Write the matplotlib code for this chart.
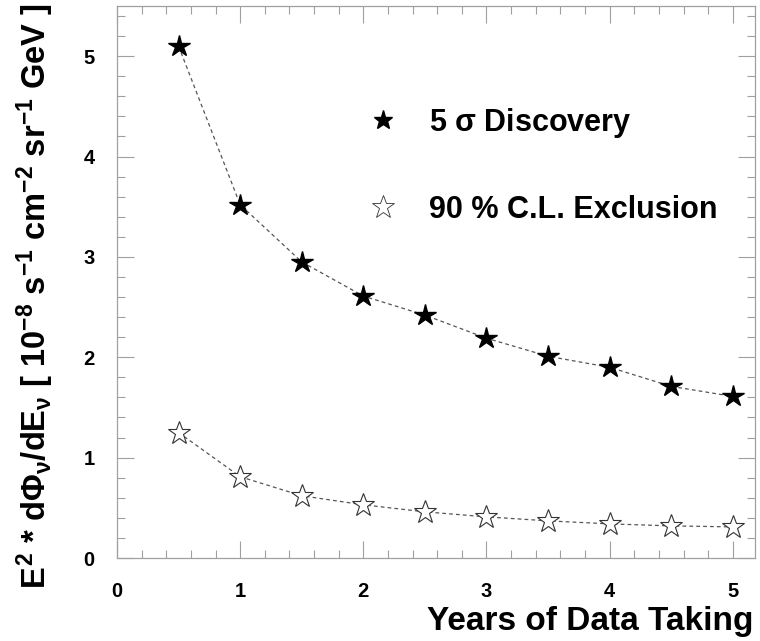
import matplotlib
matplotlib.use("Agg")
import matplotlib.pyplot as plt
from matplotlib.lines import Line2D
from matplotlib.ticker import MultipleLocator

plt.rcParams['font.family'] = ['Liberation Sans', 'DejaVu Sans']
plt.rcParams['font.weight'] = 'bold'
plt.rcParams['mathtext.fontset'] = 'custom'
plt.rcParams['mathtext.rm'] = 'Liberation Sans:bold'
plt.rcParams['mathtext.it'] = 'Liberation Sans:bold'
plt.rcParams['mathtext.bf'] = 'Liberation Sans:bold'

# data
years = [0.5, 1.0, 1.5, 2.0, 2.5, 3.0, 3.5, 4.0, 4.5, 5.0]
discovery = [5.10, 3.52, 2.95, 2.61, 2.42, 2.19, 2.01, 1.90, 1.71, 1.61]
exclusion = [1.25, 0.81, 0.62, 0.53, 0.46, 0.41, 0.37, 0.34, 0.32, 0.31]

x_ticks = [0, 1, 2, 3, 4, 5]
y_ticks = [0, 1, 2, 3, 4, 5]

frame = '#a0a0a0'

fig = plt.figure(figsize=(7.6, 6.41), dpi=100)
ax = fig.add_axes([117/760, 83/641, 638/760, 552/641])

# dashed curves
ax.plot(years, discovery, ls=(0, (3, 2.5)), color='#555555', lw=0.9, zorder=2)
ax.plot(years, exclusion, ls=(0, (3, 2.5)), color='#555555', lw=0.9, zorder=2)

# markers
ax.plot(years, discovery, ls='none', marker='*', ms=16, mfc='black', mec='black', zorder=3)
ax.plot(years, exclusion, ls='none', marker='*', ms=17, mfc='white', mec='#333333',
        mew=0.8, zorder=3)

ax.set_xlim(0, 5.18)
ax.set_ylim(0, 5.5)
ax.set_xticks(x_ticks)
ax.set_yticks(y_ticks)
ax.xaxis.set_minor_locator(MultipleLocator(0.2))
ax.yaxis.set_minor_locator(MultipleLocator(0.2))
ax.tick_params(which='both', direction='in', top=True, right=True, color=frame,
               width=0.8)
ax.tick_params(which='major', length=12)
ax.tick_params(which='minor', length=6)
ax.tick_params(axis='y', which='major', pad=16, labelsize=14.5)
ax.tick_params(axis='x', which='major', pad=17.5, labelsize=14.5)
for s in ax.spines.values():
    s.set_color(frame)
    s.set_linewidth(0.9)

# legend
handles = [
    Line2D([], [], ls='none', marker='*', ms=14, mfc='black', mec='black'),
    Line2D([], [], ls='none', marker='*', ms=17, mfc='white', mec='#333333', mew=0.6),
]
labels = ['5 $\\sigma$ Discovery', '90 % C.L. Exclusion']
leg = fig.legend(handles, labels, loc='center left', bbox_to_anchor=(357/760, 1 - 165.5/641),
                 frameon=False, fontsize=22, handlelength=0.9, handletextpad=1.05,
                 labelspacing=1.8, borderaxespad=0)

# axis titles
fig.text(753/760, 11/641, 'Years of Data Taking', ha='right', va='baseline', fontsize=24)
ylab = (r'$E^{2}$ * d$\Phi_{\nu}$/d$E_{\nu}$ [ 10$^{-8}$ s$^{-1}$ cm$^{-2}$ '
        r'sr$^{-1}$ GeV ]')
fig.text(35/760, 1 - 4/641, ylab, rotation=90, ha='center', va='top', fontsize=23.5)

fig.savefig('out.png', dpi=100)
